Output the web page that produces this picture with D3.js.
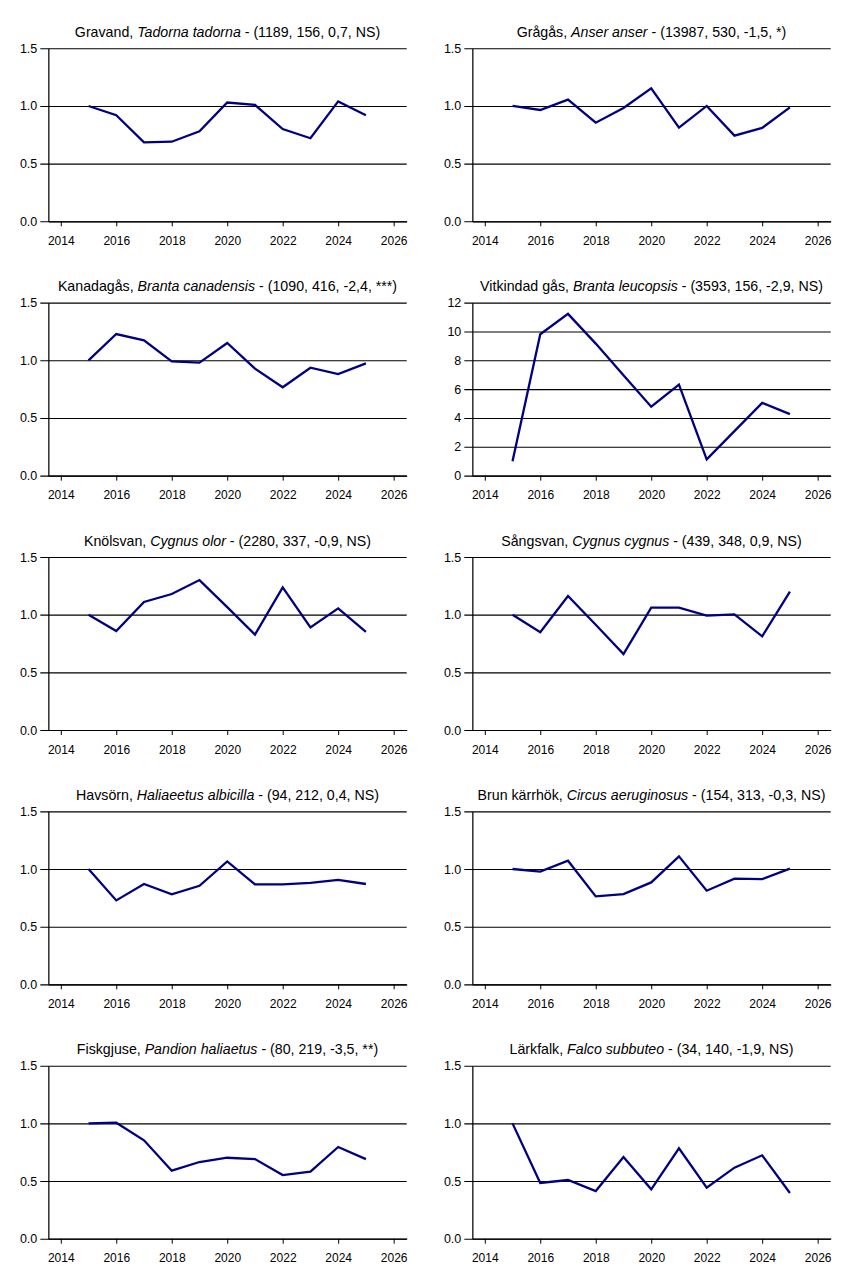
<!DOCTYPE html>
<html>
<head>
<meta charset="utf-8">
<script src="https://cdn.jsdelivr.net/npm/d3@7/dist/d3.min.js"></script>
<style>
  body { margin: 0; background: #fff; }
  svg text { font-family: Arial, "Liberation Sans", sans-serif; fill: #000; }
</style>
</head>
<body>
<svg id="chart" width="848" height="1272"></svg>
<script>
// index values, one array per species (2015 = 1)
let years = [2015, 2016, 2017, 2018, 2019, 2020, 2021, 2022, 2023, 2024, 2025];

let gravand     = [1.00, 0.92, 0.685, 0.69, 0.78, 1.03, 1.01, 0.80, 0.72, 1.04, 0.92];
let gragas      = [1.00, 0.965, 1.055, 0.855, 0.983, 1.153, 0.812, 1.00, 0.743, 0.81, 0.988];
let kanadagas   = [1.00, 1.228, 1.173, 0.99, 0.98, 1.15, 0.928, 0.766, 0.936, 0.881, 0.974];
let vitkindad   = [1.0, 9.81, 11.22, 9.16, 6.97, 4.78, 6.32, 1.13, 3.09, 5.05, 4.27];
let knolsvan    = [1.00, 0.858, 1.11, 1.179, 1.30, 1.065, 0.827, 1.237, 0.89, 1.055, 0.85];
let sangsvan    = [1.00, 0.847, 1.162, 0.913, 0.659, 1.061, 1.061, 0.991, 1.003, 0.812, 1.20];
let havsorn     = [1.00, 0.728, 0.87, 0.78, 0.855, 1.066, 0.867, 0.867, 0.88, 0.905, 0.87];
let brunKarrhok = [1.00, 0.977, 1.072, 0.763, 0.783, 0.884, 1.11, 0.812, 0.916, 0.913, 1.003];
let fiskgjuse   = [1.00, 1.006, 0.853, 0.59, 0.665, 0.702, 0.69, 0.552, 0.581, 0.795, 0.69];
let larkfalk    = [1.00, 0.483, 0.509, 0.413, 0.708, 0.428, 0.783, 0.442, 0.616, 0.723, 0.396];

let commonNames = ['Gravand', 'Grågås', 'Kanadagås', 'Vitkindad gås', 'Knölsvan',
                   'Sångsvan', 'Havsörn', 'Brun kärrhök', 'Fiskgjuse', 'Lärkfalk'];
let latinNames  = ['Tadorna tadorna', 'Anser anser', 'Branta canadensis', 'Branta leucopsis', 'Cygnus olor',
                   'Cygnus cygnus', 'Haliaeetus albicilla', 'Circus aeruginosus', 'Pandion haliaetus', 'Falco subbuteo'];
let statsText   = ['(1189, 156, 0,7, NS)', '(13987, 530, -1,5, *)', '(1090, 416, -2,4, ***)', '(3593, 156, -2,9, NS)',
                   '(2280, 337, -0,9, NS)', '(439, 348, 0,9, NS)', '(94, 212, 0,4, NS)', '(154, 313, -0,3, NS)',
                   '(80, 219, -3,5, **)', '(34, 140, -1,9, NS)'];

let xTicks     = [2014, 2016, 2018, 2020, 2022, 2024, 2026];
let smallTicks = [0, 0.5, 1.0, 1.5];
let bigTicks   = [0, 2, 4, 6, 8, 10, 12];

let series = [gravand, gragas, kanadagas, vitkindad, knolsvan, sangsvan, havsorn, brunKarrhok, fiskgjuse, larkfalk];

let svg = d3.select('#chart');

let margin = { left: 48.3, top: 48.3 };
let colStep = 424, rowStep = 254.35;
let w = 358.4, h = 173;

let xscale = d3.scaleLinear()
    .domain([2013.55, 2026.47])
    .range([0, w]);

series.forEach((vals, i) => {
    let col = i % 2;
    let row = Math.floor(i / 2);
    let big = d3.max(vals) > 2;
    let ticks = big ? bigTicks : smallTicks;

    let yscale = d3.scaleLinear()
        .domain([0, d3.max(ticks)])
        .range([h, 0]);

    let g = svg.append('g')
        .attr('transform', `translate(${margin.left + col * colStep},${margin.top + row * rowStep})`);

    // y axis + gridlines
    let yAxis = d3.axisLeft(yscale)
        .tickValues(ticks)
        .tickSize(8)
        .tickSizeOuter(0)
        .tickPadding(3)
        .tickFormat(big ? d3.format('d') : d3.format('.1f'));

    let ya = g.append('g').classed('yAxis', true).call(yAxis)
    ya.attr('font-family', null).attr('font-size', null)
    ya.selectAll('.tick line').attr('x1', w).attr('stroke', '#000').attr('stroke-width', 1.1)
    ya.selectAll('.tick text').style('font-size', '12.5px')
    ya.select('.domain').attr('stroke', '#3a3a3a').attr('stroke-width', 1.6)

    // x axis
    let xAxis = d3.axisBottom(xscale)
        .tickValues(xTicks)
        .tickSize(5)
        .tickSizeOuter(0)
        .tickPadding(10)
        .tickFormat(d3.format('d'));

    let xa = g.append('g').classed('xAxis', true)
        .attr('transform', `translate(0,${h})`)
        .call(xAxis)
    xa.attr('font-family', null).attr('font-size', null)
    xa.selectAll('.tick text').style('font-size', '12px')
    xa.selectAll('.tick line').attr('stroke', '#000')
    xa.select('.domain').attr('stroke', '#000').attr('stroke-width', 1.2)

    // the index line
    let line = d3.line()
        .x((d, k) => xscale(years[k]))
        .y(d => yscale(d));

    g.append('path')
        .datum(vals)
        .attr('d', line)
        .attr('fill', 'none')
        .attr('stroke', '#000080')
        .attr('stroke-width', 2.3)
        .attr('stroke-linejoin', 'miter');

    // title
    let title = g.append('text')
        .attr('x', w / 2)
        .attr('y', -11.5)
        .attr('text-anchor', 'middle')
        .style('font-size', '14.2px');
    title.append('tspan').text(commonNames[i] + ', ');
    title.append('tspan').style('font-style', 'italic').text(latinNames[i]);
    title.append('tspan').text(' - ' + statsText[i]);
});
</script>
</body>
</html>
